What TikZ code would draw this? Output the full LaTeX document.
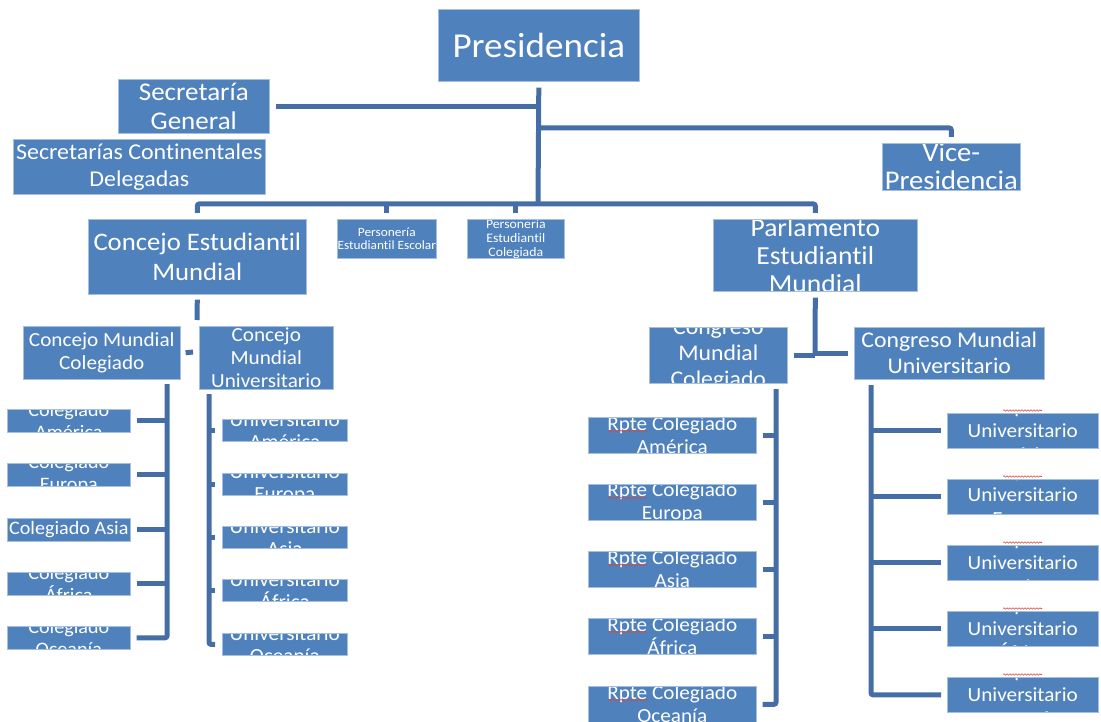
\documentclass[tikz,border=0pt]{standalone}
\usepackage{fontspec}
\setmainfont{Carlito}[FakeStretch=1.06,Ligatures=NoCommon]
\usepackage{tikz}
\usetikzlibrary{decorations.pathmorphing}
\definecolor{boxblue}{HTML}{4F81BD}
\definecolor{boxedge}{HTML}{A7BFDE}
\definecolor{linkblue}{HTML}{446EA5}
\definecolor{spellred}{HTML}{D9453F}
\begin{document}
\begin{tikzpicture}[x=1pt,y=-1pt,inner sep=0pt,
    unit/.style={fill=boxblue,draw=boxedge,line width=0.6pt,anchor=north west},
    boxtext/.style={anchor=center,minimum width=0pt,minimum height=0pt,fill=none,draw=none,text=white,align=center,inner sep=0pt},
    clipped/.style 2 args={path picture={\node[boxtext,font=#1] at (path picture bounding box.center) {#2};}},
    conn/.style={draw=linkblue,line width=5pt,rounded corners=2pt},
    squiggle/.style={draw=spellred,line width=0.6pt,decorate,decoration={snake,amplitude=0.7pt,segment length=3pt}}]
\useasboundingbox (0,0) rectangle (1101,722);
% top level
\draw (438, 9) node[unit,minimum width=201,minimum height=72,clipped={\fontsize{35}{40}\selectfont}{Presidencia}](pres) {};
\draw (118, 79) node[unit,minimum width=151,minimum height=54,clipped={\fontsize{25.5}{29}\selectfont}{Secretaría\\General}](secgen) {};
\draw (13, 139) node[unit,minimum width=252,minimum height=55,clipped={\fontsize{22.6}{27}\selectfont}{Secretarías Continentales\\Delegadas}](seccont) {};
\draw (882, 143) node[unit,minimum width=138,minimum height=47,clipped={\fontsize{27}{28}\selectfont}{Vice-\\Presidencia}](vice) {};
\draw (88, 219) node[unit,minimum width=218,minimum height=75,clipped={\fontsize{25.2}{30}\selectfont}{Concejo Estudiantil\\Mundial}](consejo) {};
\draw (337, 219) node[unit,minimum width=99,minimum height=39,clipped={\fontsize{12.6}{13.5}\selectfont}{Personería\\Estudiantil Escolar}](persesc) {};
\draw (467, 219) node[unit,minimum width=97,minimum height=39,clipped={\fontsize{13}{14}\selectfont}{Personería\\Estudiantil\\Colegiada}](perscol) {};
\draw (713, 219) node[unit,minimum width=204,minimum height=72,clipped={\fontsize{26}{28}\selectfont}{Parlamento\\Estudiantil\\Mundial}](parl) {};
% second level
\draw (23, 326) node[unit,minimum width=157,minimum height=53,clipped={\fontsize{20}{23}\selectfont}{Concejo Mundial\\Colegiado}](cmcol) {};
\draw (199, 326) node[unit,minimum width=134,minimum height=63,clipped={\fontsize{20}{23}\selectfont}{Concejo\\Mundial\\Universitario}](cmuni) {};
\draw (649, 327) node[unit,minimum width=138,minimum height=56,clipped={\fontsize{22.4}{26}\selectfont}{Congreso\\Mundial\\Colegiado}](cgcol) {};
\draw (854, 327) node[unit,minimum width=190,minimum height=52,clipped={\fontsize{22.4}{26}\selectfont}{Congreso Mundial\\Universitario}](cguni) {};
% concejo mundial colegiado
\draw (7, 409) node[unit,minimum width=123,minimum height=23,clipped={\fontsize{19}{22}\selectfont}{Colegiado\\América}](col1) {};
\draw (7, 463) node[unit,minimum width=123,minimum height=23,clipped={\fontsize{19}{22}\selectfont}{Colegiado\\Europa}](col2) {};
\draw (7, 518) node[unit,minimum width=123,minimum height=23,clipped={\fontsize{19}{22}\selectfont}{Colegiado Asia}](col3) {};
\draw (7, 572) node[unit,minimum width=123,minimum height=23,clipped={\fontsize{19}{22}\selectfont}{Colegiado\\África}](col4) {};
\draw (7, 626) node[unit,minimum width=123,minimum height=23,clipped={\fontsize{19}{22}\selectfont}{Colegiado\\Oceanía}](col5) {};
% concejo mundial universitario
\draw (222, 419) node[unit,minimum width=125,minimum height=22,clipped={\fontsize{20}{22}\selectfont}{Universitario\\América}](uni1) {};
\draw (222, 473) node[unit,minimum width=125,minimum height=22,clipped={\fontsize{20}{22}\selectfont}{Universitario\\Europa}](uni2) {};
\draw (222, 526) node[unit,minimum width=125,minimum height=22,clipped={\fontsize{20}{22}\selectfont}{Universitario\\Asia}](uni3) {};
\draw (222, 579) node[unit,minimum width=125,minimum height=22,clipped={\fontsize{20}{22}\selectfont}{Universitario\\África}](uni4) {};
\draw (222, 633) node[unit,minimum width=125,minimum height=22,clipped={\fontsize{20}{22}\selectfont}{Universitario\\Oceanía}](uni5) {};
% congreso mundial colegiado
\draw (588, 417) node[unit,minimum width=168,minimum height=36,clipped={\fontsize{20}{23}\selectfont}{Rpte Colegiado\\América}](rcol1) {};
\draw (588, 484) node[unit,minimum width=168,minimum height=36,clipped={\fontsize{20}{23}\selectfont}{Rpte Colegiado\\Europa}](rcol2) {};
\draw (588, 551) node[unit,minimum width=168,minimum height=36,clipped={\fontsize{20}{23}\selectfont}{Rpte Colegiado\\Asia}](rcol3) {};
\draw (588, 618) node[unit,minimum width=168,minimum height=36,clipped={\fontsize{20}{23}\selectfont}{Rpte Colegiado\\África}](rcol4) {};
\draw (588, 686) node[unit,minimum width=168,minimum height=36,clipped={\fontsize{20}{23}\selectfont}{Rpte Colegiado\\Oceanía}](rcol5) {};
% congreso mundial universitario
\draw (947, 413) node[unit,minimum width=151,minimum height=35,clipped={\fontsize{20}{24}\selectfont}{Rpte\\Universitario\\América}](runi1) {};
\draw (947, 479) node[unit,minimum width=151,minimum height=35,clipped={\fontsize{20}{24}\selectfont}{Rpte\\Universitario\\Europa}](runi2) {};
\draw (947, 545) node[unit,minimum width=151,minimum height=35,clipped={\fontsize{20}{24}\selectfont}{Rpte\\Universitario\\Asia}](runi3) {};
\draw (947, 611) node[unit,minimum width=151,minimum height=35,clipped={\fontsize{20}{24}\selectfont}{Rpte\\Universitario\\África}](runi4) {};
\draw (947, 677) node[unit,minimum width=151,minimum height=35,clipped={\fontsize{20}{24}\selectfont}{Rpte\\Universitario\\Oceanía}](runi5) {};
% spell-check marks under Rpte
\draw[squiggle] ([xshift=20pt,yshift=-14pt]rcol1.north west) -- ++(39,0);
\draw[squiggle] ([xshift=20pt,yshift=-14pt]rcol2.north west) -- ++(39,0);
\draw[squiggle] ([xshift=20pt,yshift=-14pt]rcol3.north west) -- ++(39,0);
\draw[squiggle] ([xshift=20pt,yshift=-14pt]rcol4.north west) -- ++(39,0);
\draw[squiggle] ([xshift=20pt,yshift=-14pt]rcol5.north west) -- ++(39,0);
\draw[squiggle] ([xshift=56pt,yshift=2.5pt]runi1.north west) -- ++(39,0);
\draw[squiggle] ([xshift=56pt,yshift=2.5pt]runi2.north west) -- ++(39,0);
\draw[squiggle] ([xshift=56pt,yshift=2.5pt]runi3.north west) -- ++(39,0);
\draw[squiggle] ([xshift=56pt,yshift=2.5pt]runi4.north west) -- ++(39,0);
\draw[squiggle] ([xshift=56pt,yshift=2.5pt]runi5.north west) -- ++(39,0);
% junctions
\coordinate (bus) at (538, 204);
\coordinate (vj) at (538, 128);
\coordinate (cj) at (197, 320);
\coordinate (cjs) at (193, 352);
\coordinate (pj) at (815, 355);
\coordinate (ctop) at (167, 384);
\coordinate (utop) at (209, 394);
\coordinate (gtop) at (776, 389);
\coordinate (htop) at (871, 385);
% connectors
\draw[conn] ([yshift=-6pt]pres.south) -- (bus);
\draw[conn] ([xshift=6pt]secgen.east) -- (secgen.east -| bus);
\draw[conn] (vj) -| ([yshift=6pt]vice.north);
\draw[conn] ([yshift=6pt]consejo.north) |- (bus) -| ([yshift=6pt]parl.north);
\draw[conn] ([yshift=6pt]persesc.north) -- (persesc.north |- bus);
\draw[conn] ([yshift=6pt]perscol.north) -- (perscol.north |- bus);
\draw[conn] ([yshift=-5pt]consejo.south) -- (cj);
\draw[conn] ([xshift=5pt]cmcol.east) -- (cjs);
\draw[conn] ([yshift=-6pt]parl.south) -- (pj);
\draw[conn] ([xshift=6pt]cgcol.east) -- (cgcol.east -| pj);
\draw[conn] (cguni.west -| pj) -- ([xshift=-6pt]cguni.west);
\draw[conn] (ctop) |- ([xshift=6pt]col5.east);
\draw[conn] ([xshift=6pt]col1.east) -- (col1.east -| ctop);
\draw[conn] ([xshift=6pt]col2.east) -- (col2.east -| ctop);
\draw[conn] ([xshift=6pt]col3.east) -- (col3.east -| ctop);
\draw[conn] ([xshift=6pt]col4.east) -- (col4.east -| ctop);
\draw[conn] (utop) |- ([xshift=-7pt]uni5.west);
\draw[conn] (uni1.west -| utop) -- ([xshift=-7pt]uni1.west);
\draw[conn] (uni2.west -| utop) -- ([xshift=-7pt]uni2.west);
\draw[conn] (uni3.west -| utop) -- ([xshift=-7pt]uni3.west);
\draw[conn] (uni4.west -| utop) -- ([xshift=-7pt]uni4.west);
\draw[conn] (gtop) |- ([xshift=6pt]rcol5.east);
\draw[conn] ([xshift=6pt]rcol1.east) -- (rcol1.east -| gtop);
\draw[conn] ([xshift=6pt]rcol2.east) -- (rcol2.east -| gtop);
\draw[conn] ([xshift=6pt]rcol3.east) -- (rcol3.east -| gtop);
\draw[conn] ([xshift=6pt]rcol4.east) -- (rcol4.east -| gtop);
\draw[conn] (htop) |- ([xshift=-6pt]runi5.west);
\draw[conn] (runi1.west -| htop) -- ([xshift=-6pt]runi1.west);
\draw[conn] (runi2.west -| htop) -- ([xshift=-6pt]runi2.west);
\draw[conn] (runi3.west -| htop) -- ([xshift=-6pt]runi3.west);
\draw[conn] (runi4.west -| htop) -- ([xshift=-6pt]runi4.west);
\end{tikzpicture}
\end{document}
